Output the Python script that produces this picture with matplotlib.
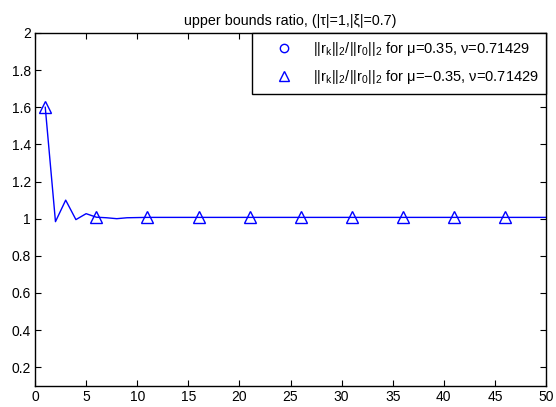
import matplotlib
matplotlib.use("Agg")
import matplotlib.pyplot as plt
from matplotlib.ticker import FuncFormatter
from matplotlib.lines import Line2D

plt.rcParams['font.family'] = ['Liberation Sans', 'DejaVu Sans']
plt.rcParams['mathtext.fontset'] = 'custom'
plt.rcParams['mathtext.rm'] = 'Liberation Sans'
plt.rcParams['mathtext.it'] = 'Liberation Sans'

iters = list(range(1, 51))
ratio_neg = [1.6, 0.984, 1.1, 0.995, 1.027, 1.008, 1.005, 1.0, 1.005, 1.006,
             1.007, 1.007, 1.007, 1.007, 1.007, 1.007, 1.007, 1.007, 1.007, 1.007,
             1.007, 1.007, 1.007, 1.007, 1.007, 1.007, 1.007, 1.007, 1.007, 1.007,
             1.007, 1.007, 1.007, 1.007, 1.007, 1.007, 1.007, 1.007, 1.007, 1.007,
             1.007, 1.007, 1.007, 1.007, 1.007, 1.007, 1.007, 1.007, 1.007, 1.007]
marker_every = 5
xticks = list(range(0, 51, 5))
yticks = [0.2, 0.4, 0.6, 0.8, 1.0, 1.2, 1.4, 1.6, 1.8, 2.0]

title = "upper bounds ratio, (|\u03c4|=1,|\u03be|=0.7)"
norm_txt = r"$\mathregular{||r_k||_2/||r_0||_2}$"
label_pos = norm_txt + " for \u03bc=0.35, \u03bd=0.71429"
label_neg = norm_txt + " for \u03bc=\u22120.35, \u03bd=0.71429"

fig = plt.figure(figsize=(5.56, 4.07), dpi=100)
ax = fig.add_axes([0.063, 0.052, 0.919, 0.867])

ax.plot(iters, ratio_neg, color='blue', lw=1.0, marker='^', markevery=marker_every,
        markersize=8, markerfacecolor='none', markeredgecolor='blue', markeredgewidth=1.0)

ax.set_xlim(0, 50)
ax.set_ylim(0.1, 2)
ax.set_xticks(xticks)
ax.set_yticks(yticks)
ax.yaxis.set_major_formatter(FuncFormatter(lambda v, p: "%g" % v))
ax.tick_params(direction='in', top=True, right=True, labelsize=10, length=4, width=0.8, pad=3)
for s in ax.spines.values():
    s.set_linewidth(1.0)
ax.set_title(title, fontsize=10.3, pad=6)

h1 = Line2D([], [], color='blue', ls='none', marker='o', markersize=6,
            markerfacecolor='none', markeredgecolor='blue')
h2 = Line2D([], [], color='blue', ls='none', marker='^', markersize=7,
            markerfacecolor='none', markeredgecolor='blue')
leg = ax.legend([h1, h2], [label_pos, label_neg], loc='upper right', fontsize=10.5,
                borderaxespad=0, fancybox=False, framealpha=1, edgecolor='black',
                handlelength=3.4, handletextpad=0.25, borderpad=0.5, labelspacing=0.7)
leg.get_frame().set_linewidth(1.0)

fig.savefig("out.png", dpi=100)
